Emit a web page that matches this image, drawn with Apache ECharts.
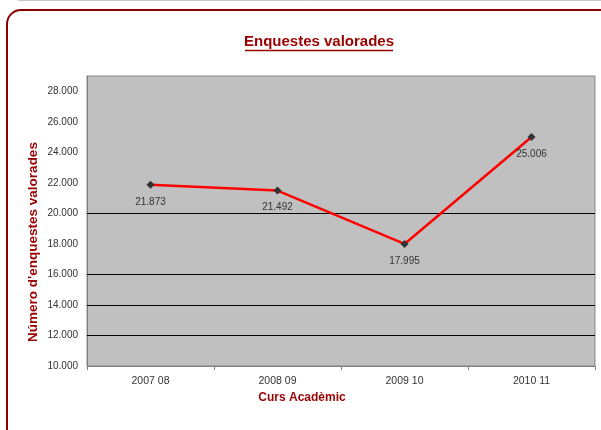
<!DOCTYPE html>
<html>
<head>
<meta charset="utf-8">
<script src="https://cdn.jsdelivr.net/npm/echarts@6/dist/echarts.min.js"></script>
<style>html,body{margin:0;padding:0;background:#fff;}#c{width:601px;height:430px;}</style>
</head>
<body>
<div id="c"></div>
<script>
var categories = ['2007 08', '2008 09', '2009 10', '2010 11'];
var enquestes = [21873, 21492, 17995, 25006];
var gridValues = [20000, 16000, 14000, 12000];
var titleText = 'Enquestes valorades';
var yName = "Número d'enquestes valorades";
var xName = 'Curs Acadèmic';

function fmt(v) {
  return String(Math.round(v)).replace(/\B(?=(\d{3})+(?!\d))/g, '.');
}

var chart = echarts.init(document.getElementById('c'), null, {renderer: 'canvas'});
chart.setOption({
  animation: false,
  backgroundColor: '#fff',
  textStyle: {fontFamily: 'Liberation Sans, Arial, sans-serif'},
  graphic: [
    {type: 'rect', shape: {x: 7, y: 10, width: 640, height: 460, r: 14}, style: {fill: null, stroke: '#8B0000', lineWidth: 2}, z: 10},
    {type: 'line', shape: {x1: 18, y1: 0.5, x2: 601, y2: 0.5}, style: {stroke: '#c8c8c8', lineWidth: 1}},
    {type: 'text', x: 319, y: 42, style: {text: titleText, fill: '#990000', font: 'bold 15px Liberation Sans, Arial, sans-serif', align: 'center', verticalAlign: 'middle'}},
    {type: 'line', shape: {x1: 245, y1: 50.5, x2: 393, y2: 50.5}, style: {stroke: '#990000', lineWidth: 1.5}},
    {type: 'text', x: 302, y: 398, style: {text: xName, fill: '#990000', font: 'bold 12px Liberation Sans, Arial, sans-serif', align: 'center', verticalAlign: 'middle'}},
    {type: 'text', x: 33, y: 242, rotation: Math.PI / 2, style: {text: yName, fill: '#990000', font: 'bold 13.5px Liberation Sans, Arial, sans-serif', align: 'center', verticalAlign: 'middle'}}
  ],
  grid: {
    left: 87, right: 6, top: 76, bottom: 64,
    show: true, backgroundColor: '#C0C0C0', borderColor: '#888', borderWidth: 1,
    containLabel: false
  },
  xAxis: {
    type: 'category',
    data: categories,
    boundaryGap: true,
    axisLine: {lineStyle: {color: '#808080', width: 1}},
    axisTick: {show: true, length: 4, lineStyle: {color: '#808080'}},
    axisLabel: {color: '#333', fontSize: 10.5, margin: 10}
  },
  yAxis: {
    type: 'value',
    min: 10000, max: 29000, interval: 2000,
    axisLine: {show: true, lineStyle: {color: '#808080'}},
    axisTick: {show: false},
    splitLine: {show: false},
    axisLabel: {color: '#333', fontSize: 10, margin: 9, showMaxLabel: false, formatter: fmt}
  },
  series: [{
    type: 'line',
    data: enquestes,
    symbol: 'diamond',
    symbolSize: 8,
    itemStyle: {color: '#333'},
    lineStyle: {color: '#FF0000', width: 2.5},
    label: {show: true, position: 'bottom', distance: 8, color: '#333', fontSize: 10, formatter: function (p) { return fmt(p.value); }},
    markLine: {
      silent: true,
      symbol: 'none',
      label: {show: false},
      lineStyle: {color: '#000', width: 1, type: 'solid'},
      data: gridValues.map(function (v) { return {yAxis: v}; }),
      z: 1
    },
    z: 3
  }]
});
</script>
</body>
</html>
